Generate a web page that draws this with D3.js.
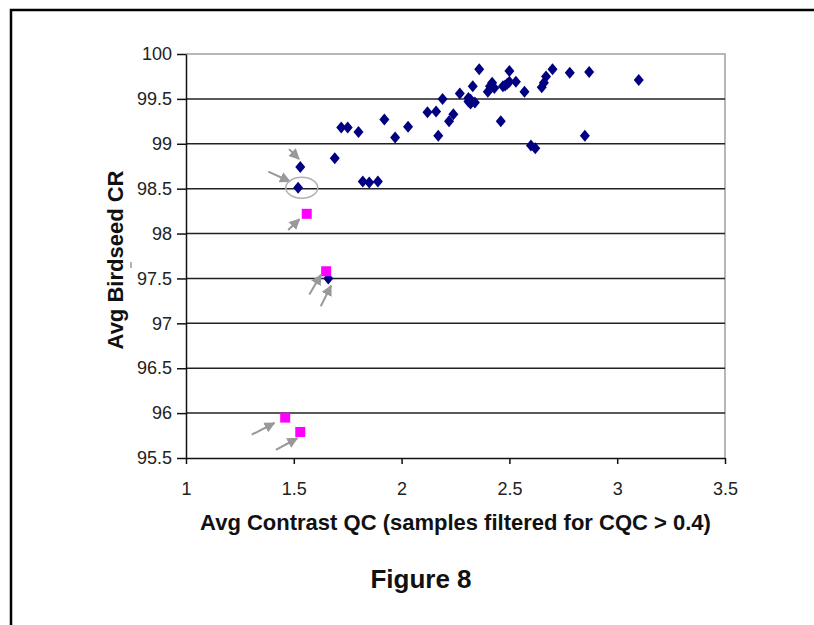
<!DOCTYPE html>
<html>
<head>
<meta charset="utf-8">
<script src="https://cdn.jsdelivr.net/npm/d3@7"></script>
<style>
  body { margin: 0; background: #fff; }
  svg { display: block; font-family: Arial, "Liberation Sans", sans-serif; }
</style>
</head>
<body>
<script>
// samples (blue diamonds)
var blueX = [1.53, 1.52, 1.66, 1.69, 1.72, 1.75, 1.80, 1.82, 1.85, 1.89, 1.92, 1.97, 2.03, 2.12,
             2.16, 2.17, 2.19, 2.22, 2.24, 2.27, 2.31, 2.32, 2.33, 2.32, 2.34, 2.36, 2.40, 2.41,
             2.42, 2.43, 2.46, 2.47, 2.48, 2.50, 2.49, 2.50, 2.53, 2.57, 2.60, 2.62, 2.65, 2.66,
             2.67, 2.70, 2.78, 2.85, 2.87, 3.10, 2.31];
var blueY = [98.74, 98.51, 97.50, 98.84, 99.18, 99.18, 99.13, 98.58, 98.57, 98.58, 99.27, 99.07, 99.19, 99.35,
             99.36, 99.09, 99.50, 99.25, 99.33, 99.56, 99.51, 99.45, 99.64, 99.49, 99.46, 99.83, 99.58, 99.64,
             99.68, 99.62, 99.25, 99.64, 99.65, 99.81, 99.67, 99.69, 99.69, 99.58, 98.98, 98.95, 99.63, 99.68,
             99.75, 99.83, 99.79, 99.09, 99.80, 99.71, 99.47];
// flagged samples (magenta squares)
var pinkX = [1.56, 1.65, 1.46, 1.53];
var pinkY = [98.22, 97.58, 95.95, 95.79];

var xTicks = [1, 1.5, 2, 2.5, 3, 3.5];
var yTicks = [95.5, 96, 96.5, 97, 97.5, 98, 98.5, 99, 99.5, 100];

// annotation arrows [x1, y1, x2, y2] in data units
var arrows = [
  [1.478, 98.94, 1.524, 98.83],
  [1.382, 98.69, 1.482, 98.58],
  [1.474, 98.04, 1.526, 98.16],
  [1.572, 97.32, 1.626, 97.54],
  [1.625, 97.19, 1.673, 97.42],
  [1.305, 95.76, 1.410, 95.89],
  [1.417, 95.59, 1.516, 95.72]
];
var circled = [1.537, 98.51];

var W = 814, H = 625;
var svg = d3.select("body").append("svg")
    .attr("width", W)
    .attr("height", H);

// outer frame (only top and left edges show)
svg.append("rect")
    .attr("x", 11).attr("y", 10)
    .attr("width", W + 20).attr("height", H + 20)
    .attr("fill", "none")
    .attr("stroke", "#000")
    .attr("stroke-width", 2.5);

var x = d3.scaleLinear().domain([1, 3.5]).range([186, 725]);
var y = d3.scaleLinear().domain([95.5, 100]).range([458, 54]);

// plot border top / right
svg.append("path")
    .attr("d", "M" + x(1) + "," + y(100) + "H" + x(3.5) + "V" + y(95.5))
    .attr("fill", "none")
    .attr("stroke", "#a0a0a0")
    .attr("stroke-width", 1.5);

// grid lines
svg.selectAll("line.grid")
    .data(yTicks.filter(function(d) { return d < 100 && d > 95.5; }))
    .enter().append("line")
    .attr("class", "grid")
    .attr("x1", x(1)).attr("x2", x(3.5))
    .attr("y1", function(d) { return y(d); })
    .attr("y2", function(d) { return y(d); })
    .attr("stroke", "#222")
    .attr("stroke-width", 1.5);

var yAxis = svg.append("g")
    .attr("transform", "translate(" + x(1) + ",0)")
    .call(d3.axisLeft(y).tickValues(yTicks).tickSize(9).tickSizeOuter(0)
          .tickFormat(function(d) { return d; }));

var xAxis = svg.append("g")
    .attr("transform", "translate(0," + y(95.5) + ")")
    .call(d3.axisBottom(x).tickValues(xTicks).tickSize(6).tickSizeOuter(0)
          .tickFormat(function(d) { return d; }));

[yAxis, xAxis].forEach(function(a) {
  a.select(".domain").attr("stroke", "#111").attr("stroke-width", 1.5);
  a.selectAll(".tick line").attr("stroke", "#111").attr("stroke-width", 1.5);
  a.selectAll("text")
      .attr("font-family", "Arial, 'Liberation Sans', sans-serif")
      .attr("font-size", 18)
      .attr("fill", "#222");
});
yAxis.selectAll("text").attr("x", -14);
xAxis.selectAll("text").attr("y", 24);

// markers
var diamond = function(cx, cy) {
  return "M" + cx + "," + (cy - 6) + "L" + (cx + 5) + "," + cy +
         "L" + cx + "," + (cy + 6) + "L" + (cx - 5) + "," + cy + "Z";
};
svg.selectAll("path.blue")
    .data(blueX)
    .enter().append("path")
    .attr("class", "blue")
    .attr("d", function(d, i) { return diamond(x(d), y(blueY[i])); })
    .attr("fill", "#000080");

svg.selectAll("rect.pink")
    .data(pinkX)
    .enter().append("rect")
    .attr("class", "pink")
    .attr("x", function(d) { return x(d) - 5; })
    .attr("y", function(d, i) { return y(pinkY[i]) - 5; })
    .attr("width", 10).attr("height", 10)
    .attr("fill", "#ff00ff");

// annotations
svg.append("defs").append("marker")
    .attr("id", "head")
    .attr("viewBox", "0 0 10 10")
    .attr("refX", 9).attr("refY", 5)
    .attr("markerWidth", 5.5).attr("markerHeight", 5.5)
    .attr("markerUnits", "strokeWidth")
    .attr("orient", "auto")
    .append("path")
    .attr("d", "M0,0L10,5L0,10Z")
    .attr("fill", "#999");

svg.selectAll("line.arrow")
    .data(arrows)
    .enter().append("line")
    .attr("class", "arrow")
    .attr("x1", function(d) { return x(d[0]); })
    .attr("y1", function(d) { return y(d[1]); })
    .attr("x2", function(d) { return x(d[2]); })
    .attr("y2", function(d) { return y(d[3]); })
    .attr("stroke", "#999")
    .attr("stroke-width", 2)
    .attr("marker-end", "url(#head)");

svg.append("ellipse")
    .attr("cx", x(circled[0])).attr("cy", y(circled[1]))
    .attr("rx", 16).attr("ry", 10.5)
    .attr("fill", "none")
    .attr("stroke", "#b0b0b0")
    .attr("stroke-width", 1.5);

// titles
svg.append("text")
    .attr("x", (x(1) + x(3.5)) / 2).attr("y", 530)
    .attr("text-anchor", "middle")
    .attr("font-size", 22).attr("font-weight", "bold")
    .attr("fill", "#111")
    .text("Avg Contrast QC (samples filtered for CQC > 0.4)");

svg.append("text")
    .attr("transform", "translate(123,260) rotate(-90)")
    .attr("text-anchor", "middle")
    .attr("font-size", 22).attr("font-weight", "bold")
    .attr("fill", "#111")
    .text("Avg Birdseed CR");

svg.append("line")
    .attr("x1", 131).attr("x2", 131).attr("y1", 262).attr("y2", 268)
    .attr("stroke", "#666").attr("stroke-width", 1);

svg.append("text")
    .attr("x", 421).attr("y", 588)
    .attr("text-anchor", "middle")
    .attr("font-size", 26).attr("font-weight", "bold")
    .attr("fill", "#111")
    .text("Figure 8");
</script>
</body>
</html>
